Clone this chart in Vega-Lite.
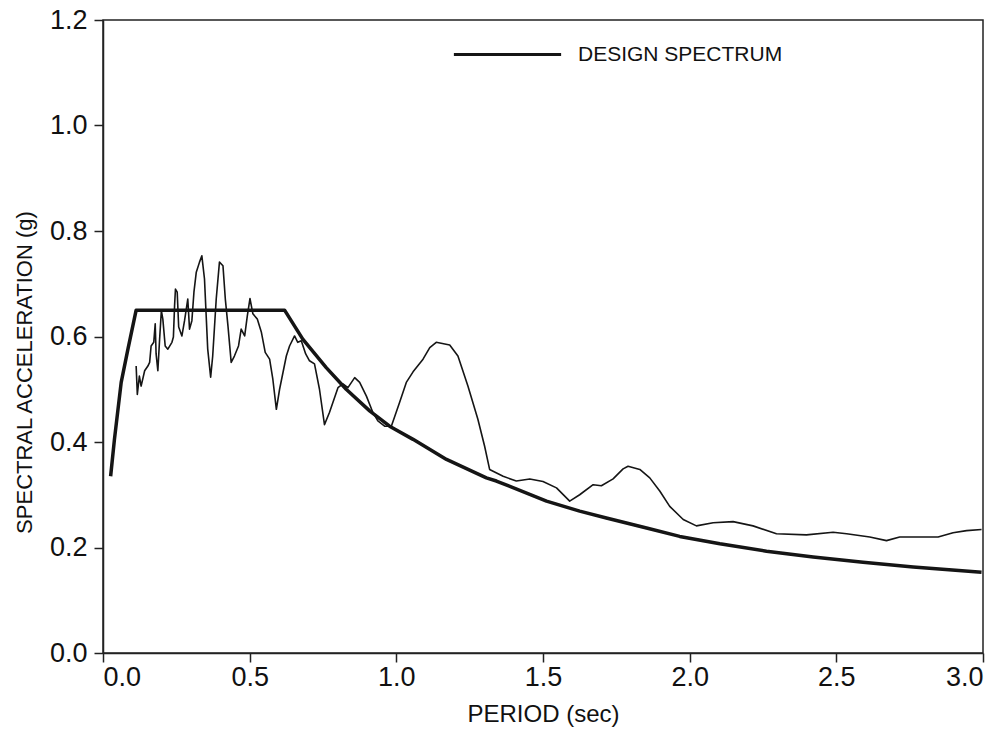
{
  "$schema": "https://vega.github.io/schema/vega-lite/v6.json",
  "autosize": {"type": "none"},
  "width": 880,
  "height": 633,
  "padding": {"left": 103, "top": 20, "right": 21, "bottom": 83},
  "background": "white",
  "config": {
    "view": {"stroke": "#222", "strokeWidth": 1.5},
    "font": "Liberation Sans",
    "axis": {
      "grid": false,
      "domainColor": "#222",
      "tickColor": "#222",
      "domainWidth": 1.5,
      "tickWidth": 1.5,
      "tickSize": 9,
      "labelFont": "Liberation Sans",
      "labelFontSize": 27,
      "labelColor": "#111",
      "titleFont": "Liberation Sans",
      "titleFontSize": 24,
      "titleFontWeight": "normal",
      "titleColor": "#111"
    }
  },
  "datasets": {
    "design": [
      {"T": 0.026, "Sa": 0.335},
      {"T": 0.039, "Sa": 0.405},
      {"T": 0.062, "Sa": 0.513},
      {"T": 0.085, "Sa": 0.576},
      {"T": 0.113, "Sa": 0.65},
      {"T": 0.3, "Sa": 0.65},
      {"T": 0.5, "Sa": 0.65},
      {"T": 0.619, "Sa": 0.65},
      {"T": 0.681, "Sa": 0.595},
      {"T": 0.761, "Sa": 0.541},
      {"T": 0.829, "Sa": 0.5},
      {"T": 0.909, "Sa": 0.459},
      {"T": 0.977, "Sa": 0.43},
      {"T": 1.057, "Sa": 0.405},
      {"T": 1.171, "Sa": 0.367},
      {"T": 1.307, "Sa": 0.332},
      {"T": 1.341, "Sa": 0.326},
      {"T": 1.512, "Sa": 0.288},
      {"T": 1.625, "Sa": 0.269},
      {"T": 1.716, "Sa": 0.256},
      {"T": 1.853, "Sa": 0.237},
      {"T": 1.966, "Sa": 0.221},
      {"T": 2.103, "Sa": 0.207},
      {"T": 2.262, "Sa": 0.193},
      {"T": 2.421, "Sa": 0.182},
      {"T": 2.591, "Sa": 0.172},
      {"T": 2.762, "Sa": 0.163},
      {"T": 2.995, "Sa": 0.153}
    ],
    "record": [
      {"T": 0.113, "Sa": 0.544},
      {"T": 0.117, "Sa": 0.49},
      {"T": 0.124, "Sa": 0.525},
      {"T": 0.13, "Sa": 0.506},
      {"T": 0.142, "Sa": 0.535},
      {"T": 0.153, "Sa": 0.544},
      {"T": 0.159, "Sa": 0.551},
      {"T": 0.164, "Sa": 0.582},
      {"T": 0.173, "Sa": 0.589},
      {"T": 0.178, "Sa": 0.624},
      {"T": 0.181, "Sa": 0.567},
      {"T": 0.187, "Sa": 0.535},
      {"T": 0.193, "Sa": 0.595},
      {"T": 0.199, "Sa": 0.649},
      {"T": 0.204, "Sa": 0.633},
      {"T": 0.212, "Sa": 0.582},
      {"T": 0.221, "Sa": 0.576},
      {"T": 0.235, "Sa": 0.589},
      {"T": 0.24, "Sa": 0.599},
      {"T": 0.244, "Sa": 0.658},
      {"T": 0.247, "Sa": 0.69},
      {"T": 0.253, "Sa": 0.684},
      {"T": 0.258, "Sa": 0.618},
      {"T": 0.269, "Sa": 0.601},
      {"T": 0.278, "Sa": 0.63},
      {"T": 0.289, "Sa": 0.671},
      {"T": 0.295, "Sa": 0.614},
      {"T": 0.303, "Sa": 0.63},
      {"T": 0.31, "Sa": 0.684},
      {"T": 0.318, "Sa": 0.722},
      {"T": 0.329, "Sa": 0.741},
      {"T": 0.337, "Sa": 0.753},
      {"T": 0.346, "Sa": 0.709},
      {"T": 0.357, "Sa": 0.576},
      {"T": 0.367, "Sa": 0.523},
      {"T": 0.374, "Sa": 0.563},
      {"T": 0.386, "Sa": 0.671},
      {"T": 0.397, "Sa": 0.741},
      {"T": 0.409, "Sa": 0.734},
      {"T": 0.417, "Sa": 0.671},
      {"T": 0.426, "Sa": 0.62},
      {"T": 0.437, "Sa": 0.551},
      {"T": 0.448, "Sa": 0.563},
      {"T": 0.462, "Sa": 0.582},
      {"T": 0.471, "Sa": 0.614},
      {"T": 0.483, "Sa": 0.601},
      {"T": 0.492, "Sa": 0.639},
      {"T": 0.501, "Sa": 0.672},
      {"T": 0.511, "Sa": 0.643},
      {"T": 0.526, "Sa": 0.633},
      {"T": 0.54, "Sa": 0.608},
      {"T": 0.553, "Sa": 0.57},
      {"T": 0.568, "Sa": 0.557},
      {"T": 0.579, "Sa": 0.519},
      {"T": 0.591, "Sa": 0.462},
      {"T": 0.602, "Sa": 0.5},
      {"T": 0.625, "Sa": 0.563},
      {"T": 0.636, "Sa": 0.582},
      {"T": 0.653, "Sa": 0.601},
      {"T": 0.664, "Sa": 0.589},
      {"T": 0.676, "Sa": 0.592},
      {"T": 0.691, "Sa": 0.567},
      {"T": 0.704, "Sa": 0.554},
      {"T": 0.721, "Sa": 0.548},
      {"T": 0.738, "Sa": 0.5},
      {"T": 0.755, "Sa": 0.433},
      {"T": 0.772, "Sa": 0.456},
      {"T": 0.801, "Sa": 0.503},
      {"T": 0.818, "Sa": 0.51},
      {"T": 0.835, "Sa": 0.503},
      {"T": 0.858, "Sa": 0.522},
      {"T": 0.875, "Sa": 0.513},
      {"T": 0.898, "Sa": 0.487},
      {"T": 0.92, "Sa": 0.456},
      {"T": 0.937, "Sa": 0.44},
      {"T": 0.96, "Sa": 0.43},
      {"T": 0.983, "Sa": 0.43},
      {"T": 1.011, "Sa": 0.475},
      {"T": 1.034, "Sa": 0.513},
      {"T": 1.057, "Sa": 0.533},
      {"T": 1.091, "Sa": 0.557},
      {"T": 1.114, "Sa": 0.579},
      {"T": 1.136, "Sa": 0.589},
      {"T": 1.182, "Sa": 0.584},
      {"T": 1.21, "Sa": 0.563},
      {"T": 1.244, "Sa": 0.506},
      {"T": 1.278, "Sa": 0.443},
      {"T": 1.301, "Sa": 0.392},
      {"T": 1.318, "Sa": 0.348},
      {"T": 1.364, "Sa": 0.335},
      {"T": 1.409, "Sa": 0.326},
      {"T": 1.455, "Sa": 0.33},
      {"T": 1.5, "Sa": 0.325},
      {"T": 1.546, "Sa": 0.313},
      {"T": 1.591, "Sa": 0.288},
      {"T": 1.625, "Sa": 0.3},
      {"T": 1.671, "Sa": 0.319},
      {"T": 1.699, "Sa": 0.317},
      {"T": 1.739, "Sa": 0.33},
      {"T": 1.773, "Sa": 0.349},
      {"T": 1.79, "Sa": 0.354},
      {"T": 1.83, "Sa": 0.348},
      {"T": 1.864, "Sa": 0.332},
      {"T": 1.898, "Sa": 0.307},
      {"T": 1.932, "Sa": 0.278},
      {"T": 1.978, "Sa": 0.253},
      {"T": 2.023, "Sa": 0.241},
      {"T": 2.08, "Sa": 0.247},
      {"T": 2.148, "Sa": 0.249},
      {"T": 2.216, "Sa": 0.241},
      {"T": 2.296, "Sa": 0.226},
      {"T": 2.398, "Sa": 0.224},
      {"T": 2.489, "Sa": 0.229},
      {"T": 2.535, "Sa": 0.226},
      {"T": 2.614, "Sa": 0.22},
      {"T": 2.671, "Sa": 0.213},
      {"T": 2.716, "Sa": 0.22},
      {"T": 2.774, "Sa": 0.22},
      {"T": 2.847, "Sa": 0.22},
      {"T": 2.898, "Sa": 0.228},
      {"T": 2.944, "Sa": 0.232},
      {"T": 2.995, "Sa": 0.234}
    ]
  },
  "encoding": {
    "x": {
      "field": "T",
      "type": "quantitative",
      "scale": {"domain": [0, 3], "nice": false, "zero": false},
      "axis": {"values": [0, 0.5, 1, 1.5, 2, 2.5, 3], "format": ".1f", "title": "PERIOD (sec)", "labelPadding": 2, "titlePadding": 12}
    },
    "y": {
      "field": "Sa",
      "type": "quantitative",
      "scale": {"domain": [0, 1.2], "nice": false},
      "axis": {"values": [0, 0.2, 0.4, 0.6, 0.8, 1.0, 1.2], "format": ".1f", "title": "SPECTRAL ACCELERATION (g)", "titleFontSize": 22, "titleY": 352, "labelPadding": 7, "titlePadding": 13}
    }
  },
  "layer": [
    {
      "data": {"name": "record"},
      "mark": {"type": "line", "color": "#151515", "strokeWidth": 1.6, "strokeJoin": "round"}
    },
    {
      "data": {"name": "design"},
      "mark": {"type": "line", "strokeWidth": 3.5, "strokeJoin": "round"},
      "encoding": {
        "color": {
          "datum": "DESIGN SPECTRUM",
          "scale": {"range": ["#151515"]},
          "legend": {
            "title": null,
            "orient": "none",
            "legendX": 349,
            "legendY": -21,
            "symbolType": "stroke",
            "symbolSize": 11500,
            "symbolStrokeWidth": 3,
            "labelFontSize": 21,
            "labelFont": "Liberation Sans",
            "labelColor": "#111",
            "labelOffset": 15,
            "labelLimit": 0
          }
        }
      }
    }
  ]
}
